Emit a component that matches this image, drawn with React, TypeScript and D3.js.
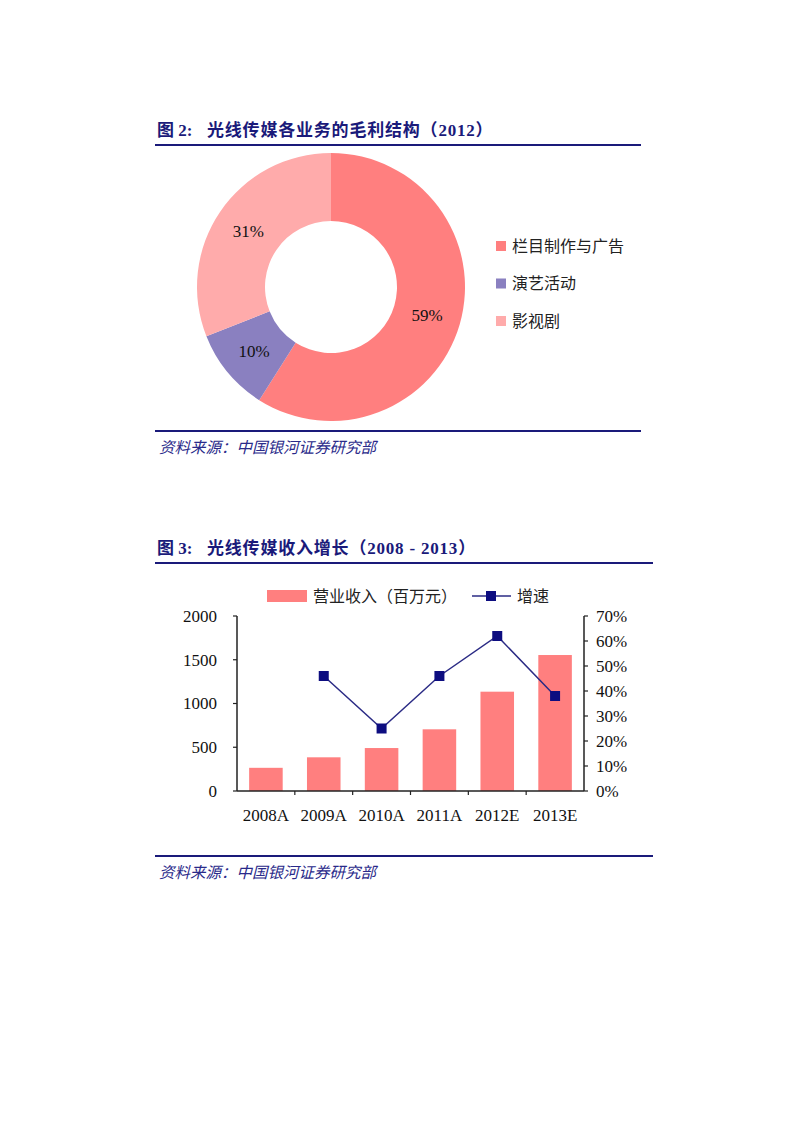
import * as d3 from "d3";

// 图 2 数据
const pieNames = ["栏目制作与广告", "演艺活动", "影视剧"];
const pieValues = [59, 10, 31];
const pieColors = ["#FF7F7F", "#8A80C0", "#FFABAB"];

// 图 3 数据
const years = ["2008A", "2009A", "2010A", "2011A", "2012E", "2013E"];
const revenue = [265, 385, 491, 705, 1135, 1554];
const growth = [null, 46, 25, 46, 62, 38] as (number | null)[];
const leftTicks = [0, 500, 1000, 1500, 2000];
const rightTicks = [0, 10, 20, 30, 40, 50, 60, 70];

const NAVY = "#1A1A7A";
const SERIF = "'Liberation Serif', 'Noto Sans CJK SC', serif";
const CJK = "'Liberation Serif', 'Noto Sans CJK SC', sans-serif";

function Donut() {
  const cx = 331, cy = 287;
  const pie = d3.pie<number>().sort(null).value((d) => d);
  const arcs = pie(pieValues);
  const arc = d3.arc<d3.PieArcDatum<number>>().innerRadius(66).outerRadius(134);
  const labelArc = d3.arc<d3.PieArcDatum<number>>().innerRadius(100).outerRadius(100);
  return (
    <g>
      <g transform={`translate(${cx},${cy})`}>
        {arcs.map((a, i) => (
          <path key={i} d={arc(a) || ""} fill={pieColors[i]} />
        ))}
        {arcs.map((a, i) => {
          const [x, y] = labelArc.centroid(a);
          return (
            <text key={i} x={x} y={y} dy="0.35em" textAnchor="middle" fontFamily={SERIF} fontSize={17} fill="#111">
              {pieValues[i]}%
            </text>
          );
        })}
      </g>
      {pieNames.map((n, i) => (
        <g key={n} transform={`translate(496,${246 + i * 37.5})`}>
          <rect x={0} y={-5} width={10} height={10} fill={pieColors[i]} />
          <text x={16} y={0} dy="0.35em" fontFamily={CJK} fontSize={16} fill="#222">{n}</text>
        </g>
      ))}
    </g>
  );
}

function Combo() {
  const x0 = 237, x1 = 584, yTop = 616, yBot = 791;
  const x = d3.scaleBand<string>().domain(years).range([x0, x1]).paddingInner(0.42).paddingOuter(0.21);
  const xb = d3.scaleBand<string>().domain(years).range([x0, x1]);
  const yL = d3.scaleLinear().domain([0, 2000]).range([yBot, yTop]);
  const yR = d3.scaleLinear().domain([0, 70]).range([yBot, yTop]);
  const pts = years
    .map((yr, i) => ({ yr, v: growth[i] }))
    .filter((d) => d.v !== null) as { yr: string; v: number }[];
  const line = d3
    .line<{ yr: string; v: number }>()
    .x((d) => (xb(d.yr) as number) + xb.bandwidth() / 2)
    .y((d) => yR(d.v));
  return (
    <g>
      {years.map((yr, i) => (
        <rect key={yr} x={x(yr)} y={yL(revenue[i])} width={x.bandwidth()} height={yBot - yL(revenue[i])} fill="#FF7F7F" />
      ))}
      <path d={line(pts) || ""} fill="none" stroke="#2B2B85" strokeWidth={1.5} />
      {pts.map((d) => (
        <rect key={d.yr} x={(xb(d.yr) as number) + xb.bandwidth() / 2 - 5} y={yR(d.v) - 5} width={10} height={10} fill="#0D0D80" />
      ))}
      {/* axes */}
      <line x1={x0} x2={x0} y1={yTop} y2={yBot} stroke="#222" strokeWidth={1.5} />
      <line x1={x1} x2={x1} y1={yTop} y2={yBot} stroke="#222" strokeWidth={1.5} />
      <line x1={x0} x2={x1} y1={yBot} y2={yBot} stroke="#222" strokeWidth={1.5} />
      {leftTicks.map((t) => (
        <g key={t}>
          <line x1={x0 - 4} x2={x0} y1={yL(t)} y2={yL(t)} stroke="#222" strokeWidth={1.2} />
          <text x={217} y={yL(t)} dy="0.35em" textAnchor="end" fontFamily={SERIF} fontSize={17} fill="#111">{t}</text>
        </g>
      ))}
      {rightTicks.map((t) => (
        <g key={t}>
          <line x1={x1} x2={x1 + 4} y1={yR(t)} y2={yR(t)} stroke="#222" strokeWidth={1.2} />
          <text x={596} y={yR(t)} dy="0.35em" fontFamily={SERIF} fontSize={17} fill="#111">{t}%</text>
        </g>
      ))}
      {years.map((yr, i) =>
        i > 0 ? (
          <line key={yr} x1={xb(yr)} x2={xb(yr)} y1={yBot} y2={yBot + 4} stroke="#222" strokeWidth={1.2} />
        ) : null
      )}
      {years.map((yr) => (
        <text key={yr} x={(xb(yr) as number) + xb.bandwidth() / 2} y={815} dy="0.35em" textAnchor="middle" fontFamily={SERIF} fontSize={17} fill="#111">
          {yr}
        </text>
      ))}
      {/* legend */}
      <rect x={267} y={590} width={40} height={12} fill="#FF7F7F" />
      <text x={313} y={596} dy="0.35em" fontFamily={CJK} fontSize={16} fill="#222">营业收入（百万元）</text>
      <line x1={472} x2={511} y1={596} y2={596} stroke="#2B2B85" strokeWidth={1.5} />
      <rect x={486} y={591} width={10} height={10} fill="#0D0D80" />
      <text x={517} y={596} dy="0.35em" fontFamily={CJK} fontSize={16} fill="#222">增速</text>
    </g>
  );
}

function Header({ y, label, text, right }: { y: number; label: string; text: string; right: number }) {
  return (
    <g>
      <text x={157} y={y} fontFamily={CJK} fontWeight="bold" fontSize={17} fill={NAVY}>
        {label}
        <tspan x={207} letterSpacing={0.8}>{text}</tspan>
      </text>
      <line x1={155} x2={right} y1={y + 9} y2={y + 9} stroke={NAVY} strokeWidth={2} />
    </g>
  );
}

function Source({ y, right }: { y: number; right: number }) {
  return (
    <g>
      <line x1={155} x2={right} y1={y} y2={y} stroke={NAVY} strokeWidth={2} />
      <text x={159} y={y + 22} fontFamily="'Noto Sans CJK SC', sans-serif" fontStyle="italic" fontSize={15.5} fill="#2A2A8A">
        资料来源：中国银河证券研究部
      </text>
    </g>
  );
}

export default function App() {
  return (
    <svg width={800} height={1132} style={{ position: "absolute", left: 0, top: 0, background: "#fff" }}>
      <Header y={136} label="图 2:" text="光线传媒各业务的毛利结构（2012）" right={641} />
      <Donut />
      <Source y={431} right={641} />
      <Header y={554} label="图 3:" text="光线传媒收入增长（2008 - 2013）" right={653} />
      <Combo />
      <Source y={856} right={653} />
    </svg>
  );
}
